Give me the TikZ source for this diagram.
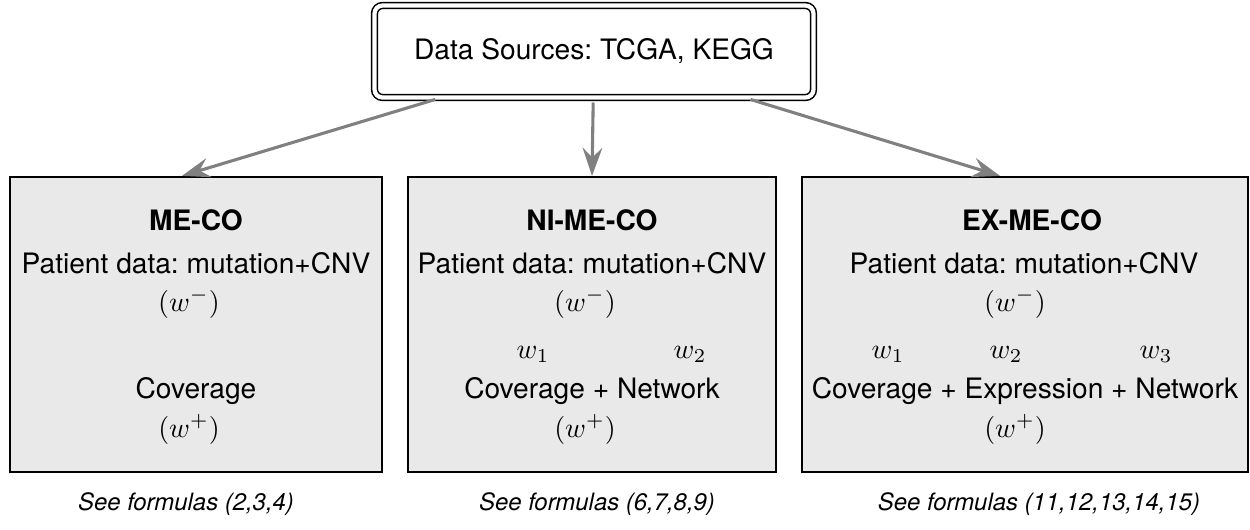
\documentclass[tikz,border=0pt]{standalone}
\usepackage{fontspec}
\setmainfont{TeX Gyre Heros}
\frenchspacing
\usetikzlibrary{arrows.meta}
\newcommand{\px}{0.0125cm}
\definecolor{boxfill}{gray}{0.915}
\definecolor{arrowgray}{gray}{0.5}

\begin{document}
\begin{tikzpicture}[x=\px, y=-\px,
    box/.style={draw, line width=0.8pt, fill=boxfill, rectangle, inner sep=0pt},
    srcbox/.style={draw, double, line width=0.55pt, double distance=1.5pt, rounded corners=0.1cm, minimum width=439*\px, minimum height=92*\px, inner sep=0pt},
    txt/.style={anchor=base, inner sep=0pt},
    ref/.style={anchor=base, inner sep=0pt, font=\fontsize{8.5}{10}\selectfont\itshape},
    flow/.style={draw=arrowgray, line width=1.1pt, shorten <=1.5pt, -{Stealth[length=10pt, width=7pt, inset=3.5pt]}}]
    \useasboundingbox (0,0) rectangle (1250,529);

    % Source
    \node[srcbox] (src) at (594,51.5) {Data Sources: TCGA, KEGG};

    % Boxes
    \node[box, minimum width=372*\px, minimum height=295*\px] (meco) at (196,324.5) {};
    \node[box, minimum width=368*\px, minimum height=295*\px] (nimeco) at (592,324.5) {};
    \node[box, minimum width=446*\px, minimum height=295*\px] (exmeco) at (1025,324.5) {};

    % ME-CO
    \node[txt, font=\bfseries] (meco-title) at (196,230) {ME-CO};
    \node[txt] (meco-data) at (196,273) {Patient data: mutation+CNV};
    \node[txt] (meco-neg) at (189,311) {$(w^{-})$};
    \node[txt] (meco-cov) at (196,398) {Coverage};
    \node[txt] (meco-pos) at (189,437) {$(w^{+})$};

    % NI-ME-CO
    \node[txt, font=\bfseries] (nimeco-title) at (592,230) {NI-ME-CO};
    \node[txt] (nimeco-data) at (592,273) {Patient data: mutation+CNV};
    \node[txt] (nimeco-neg) at (585,311) {$(w^{-})$};
    \node[txt] (nimeco-w1) at (533,358) {$w_1$};
    \node[txt] (nimeco-w2) at (690,358) {$w_2$};
    \node[txt] (nimeco-cov) at (592,398) {Coverage + Network};
    \node[txt] (nimeco-pos) at (585,437) {$(w^{+})$};

    % EX-ME-CO
    \node[txt, font=\bfseries] (exmeco-title) at (1032,230) {EX-ME-CO};
    \node[txt] (exmeco-data) at (1024,273) {Patient data: mutation+CNV};
    \node[txt] (exmeco-neg) at (1015,311) {$(w^{-})$};
    \node[txt] (exmeco-w1) at (888,358) {$w_1$};
    \node[txt] (exmeco-w2) at (1006,358) {$w_2$};
    \node[txt] (exmeco-w3) at (1156,358) {$w_3$};
    \node[txt] (exmeco-cov) at (1025,398) {Coverage + Expression + Network};
    \node[txt] (exmeco-pos) at (1015,437) {$(w^{+})$};

    % References
    \node[ref] (meco-ref) at (186,510) {See formulas (2,3,4)};
    \node[ref] (nimeco-ref) at (597,510) {See formulas (6,7,8,9)};
    \node[ref] (exmeco-ref) at (1039,510) {See formulas (11,12,13,14,15)};

    % Arrows
    \draw[flow] (src) -- ([xshift=-14*\px]meco.north);
    \draw[flow] (src) -- (nimeco.north);
    \draw[flow] (src) -- ([xshift=-25*\px]exmeco.north);

\end{tikzpicture}
\end{document}
